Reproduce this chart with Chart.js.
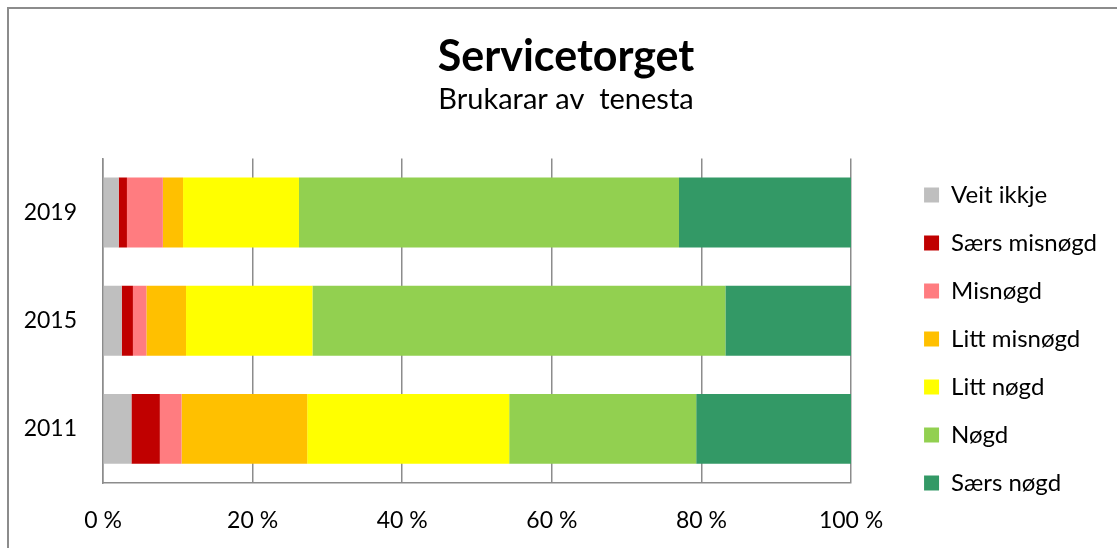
<!DOCTYPE html>
<html>
<head>
<meta charset="utf-8">
<script src="https://cdn.jsdelivr.net/npm/chart.js@4/dist/chart.umd.min.js"></script>
<style>
    body { margin: 0; background: #fff; overflow: hidden; }
    #frame { position: absolute; left: 7px; top: 7px; width: 1130px; height: 570px; border: 2px solid #8c8c8c; }
    #wrap { position: absolute; left: 0; top: 0; width: 1117px; height: 548px; }
</style>
</head>
<body>
<div id="frame"></div>
<div id="wrap"><canvas id="chart"></canvas></div>
<script>
const years = ["2019", "2015", "2011"];

const seriesNames = ["Veit ikkje", "Særs misnøgd", "Misnøgd", "Litt misnøgd", "Litt nøgd", "Nøgd", "Særs nøgd"];
const seriesColors = ["#bfbfbf", "#c00000", "#ff7c80", "#ffc000", "#ffff00", "#92d050", "#339966"];

// percent per year, same order as years
const veitIkkje   = [2.1, 2.5, 3.8];
const saersMisnogd = [1.1, 1.5, 3.8];
const misnogd     = [4.8, 1.8, 2.9];
const littMisnogd = [2.7, 5.3, 16.8];
const littNogd    = [15.5, 16.9, 27.0];
const nogd        = [50.8, 55.2, 25.0];
const saersNogd   = [23.0, 16.8, 20.7];

const xTicks = [0, 20, 40, 60, 80, 100];

const seriesValues = [veitIkkje, saersMisnogd, misnogd, littMisnogd, littNogd, nogd, saersNogd];
const font = "Lato";

const datasets = seriesNames.map((name, i) => ({
    label: name,
    data: seriesValues[i],
    backgroundColor: seriesColors[i],
    borderWidth: 0,
    barPercentage: 1,
    categoryPercentage: 0.646,
}));

// nudge legend and titles (no offset options for these boxes)
const boxShift = {
    id: "boxShift",
    afterLayout(chart) {
        const lg = chart.legend;
        lg.left += 49;
        lg.right += 49;
        lg.top += 65;
        lg.bottom += 65;
        chart.boxes
            .filter((b) => b.position === "top")
            .forEach((b) => { b.left += 37; b.right += 37; });
    },
};

new Chart(document.getElementById("chart"), {
    type: "bar",
    data: { labels: years, datasets: datasets },
    plugins: [boxShift],
    options: {
        indexAxis: "y",
        responsive: true,
        maintainAspectRatio: false,
        animation: false,
        layout: { padding: { left: 0, right: 59, top: 0, bottom: 0 } },
        plugins: {
            title: {
                display: true,
                text: "Servicetorget",
                color: "#000",
                font: { family: font, size: 43, weight: "bold" },
                padding: { top: 31, bottom: 0 },
            },
            subtitle: {
                display: true,
                text: "Brukarar av  tenesta",
                color: "#000",
                font: { family: font, size: 29 },
                padding: { top: 0, bottom: 41 },
            },
            legend: {
                position: "right",
                labels: {
                    color: "#000",
                    font: { family: font, size: 24 },
                    boxWidth: 15,
                    boxHeight: 15,
                    padding: 24,
                },
            },
            tooltip: { enabled: false },
        },
        scales: {
            x: {
                stacked: true,
                min: 0,
                max: 100,
                afterBuildTicks: (axis) => { axis.ticks = xTicks.map((v) => ({ value: v })); },
                afterFit: (axis) => { axis.height = 65; },
                ticks: {
                    color: "#000",
                    font: { family: font, size: 23 },
                    padding: 24,
                    callback: (v) => v + " %",
                },
                grid: { color: "#8c8c8c", lineWidth: 1.5, drawTicks: false },
                border: { display: true, color: "#8c8c8c", width: 1.5 },
            },
            y: {
                stacked: true,
                afterFit: (axis) => { axis.width = 103; },
                ticks: {
                    color: "#000",
                    font: { family: font, size: 23 },
                    padding: 26,
                },
                grid: { display: false, drawTicks: false },
                border: { display: true, color: "#8c8c8c", width: 1.5 },
            },
        },
    },
});
</script>
</body>
</html>
